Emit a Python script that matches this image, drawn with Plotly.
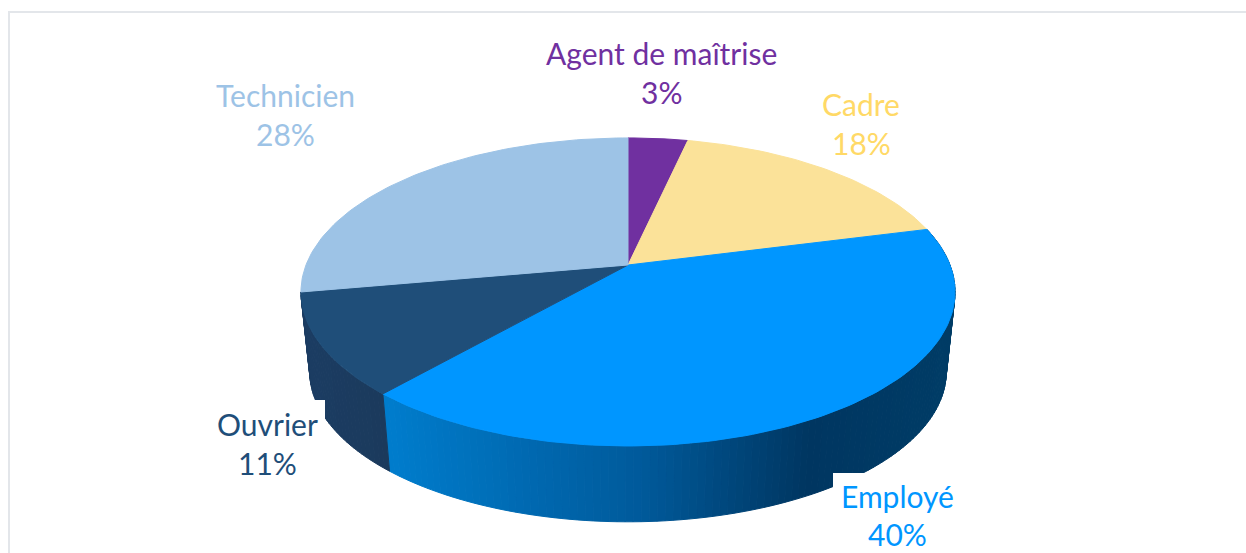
import math
import plotly.graph_objects as go

# Data
categories = ["Agent de maîtrise", "Cadre", "Employé", "Ouvrier", "Technicien"]
values = [3.49, 17.51, 40.5, 10.7, 27.8]
percent_labels = ["3%", "18%", "40%", "11%", "28%"]
top_colors = ["#7030A0", "#FBE299", "#0096FF", "#1F4E79", "#9DC3E6"]
text_colors = ["#7030A0", "#FFD966", "#0096FF", "#1F4E79", "#9DC3E6"]
label_x = [661, 861, 897, 267, 285]
name_y = [53, 104, 496, 424, 95]
pct_y = [92, 143, 534, 463, 134]

# Projection of the tilted disc onto the page
CX, CY = 628, 265
R, A, K = 322, 149.3, 0.175
ELL_CY = 292
WALL_DROP = 80
WALL_SCALE = 0.973

def top_point(frac):
    t = 2 * math.pi * frac
    x, y = math.sin(t), math.cos(t)
    d = 1 + K * y
    return CX + R * x / d, CY - A * y / d

def bottom_point(frac):
    x, y = top_point(frac)
    return CX + WALL_SCALE * (x - CX), ELL_CY + WALL_DROP + WALL_SCALE * (y - ELL_CY)

def lerp_stops(x, stops):
    if x <= stops[0][0]:
        return stops[0][1]
    for (x0, c0), (x1, c1) in zip(stops, stops[1:]):
        if x <= x1:
            f = (x - x0) / (x1 - x0)
            return tuple(round(a + (b - a) * f) for a, b in zip(c0, c1))
    return stops[-1][1]

wall_stops = {
    "Employé": [(390, (0, 124, 204)), (520, (0, 106, 178)), (640, (0, 90, 155)),
                (810, (0, 54, 97)), (950, (0, 60, 102))],
    "Ouvrier": [(310, (27, 60, 98)), (385, (27, 58, 92))],
}

fig = go.Figure()

def add_poly(xs, ys, color):
    fig.add_trace(go.Scatter(x=xs, y=ys, mode="lines", fill="toself", fillcolor=color,
                             line=dict(color=color, width=1), hoverinfo="skip", showlegend=False))

# Cumulative fractions
starts = []
acc = 0.0
total = sum(values)
for v in values:
    starts.append(acc / total)
    acc += v
ends = starts[1:] + [1.0]

# Side wall, drawn as narrow strips
for name, s, e in zip(categories, starts, ends):
    if name not in wall_stops:
        continue
    n = max(8, int((e - s) * 300))
    for i in range(n):
        f0 = s + (e - s) * i / n
        f1 = s + (e - s) * (i + 1) / n
        x0, y0 = top_point(f0)
        x1, y1 = top_point(f1)
        x2, y2 = bottom_point(f1)
        x3, y3 = bottom_point(f0)
        r, g, b = lerp_stops((x0 + x1) / 2, wall_stops[name])
        add_poly([x0, x1, x2, x3, x0], [y0, y1, y2, y3, y0], f"rgb({r},{g},{b})")

# Top face
for s, e, color in zip(starts, ends, top_colors):
    n = max(6, int((e - s) * 300))
    pts = [top_point(s + (e - s) * i / n) for i in range(n + 1)]
    xs = [CX] + [p[0] for p in pts] + [CX]
    ys = [CY] + [p[1] for p in pts] + [CY]
    add_poly(xs, ys, color)

# White label boxes cutting into the wall, and the outer frame
shapes = [
    dict(type="rect", x0=200, x1=325, y0=400, y1=490, fillcolor="white", line_width=0, layer="above"),
    dict(type="rect", x0=833, x1=965, y0=473, y1=553, fillcolor="white", line_width=0, layer="above"),
    dict(type="rect", x0=9, x1=1270, y0=12, y1=580, fillcolor="rgba(0,0,0,0)",
         line=dict(color="#E3E6EA", width=2), layer="above"),
]

annotations = []
for name, pct, x, y1, y2, color in zip(categories, percent_labels, label_x, name_y, pct_y, text_colors):
    for text, y in ((name, y1), (pct, y2)):
        annotations.append(dict(x=x, y=y, text=text, showarrow=False, xanchor="center", yanchor="middle",
                                font=dict(family="Lato", size=30, color=color)))

fig.update_layout(
    width=1246, height=553, margin=dict(l=0, r=0, t=0, b=0),
    paper_bgcolor="white", plot_bgcolor="white", showlegend=False,
    xaxis=dict(range=[0, 1246], visible=False, fixedrange=True),
    yaxis=dict(range=[553, 0], visible=False, fixedrange=True),
    shapes=shapes, annotations=annotations,
)
fig.write_html("out.html", config={"displayModeBar": False},
               post_script="document.body.style.margin='0';document.body.style.overflow='hidden';")
